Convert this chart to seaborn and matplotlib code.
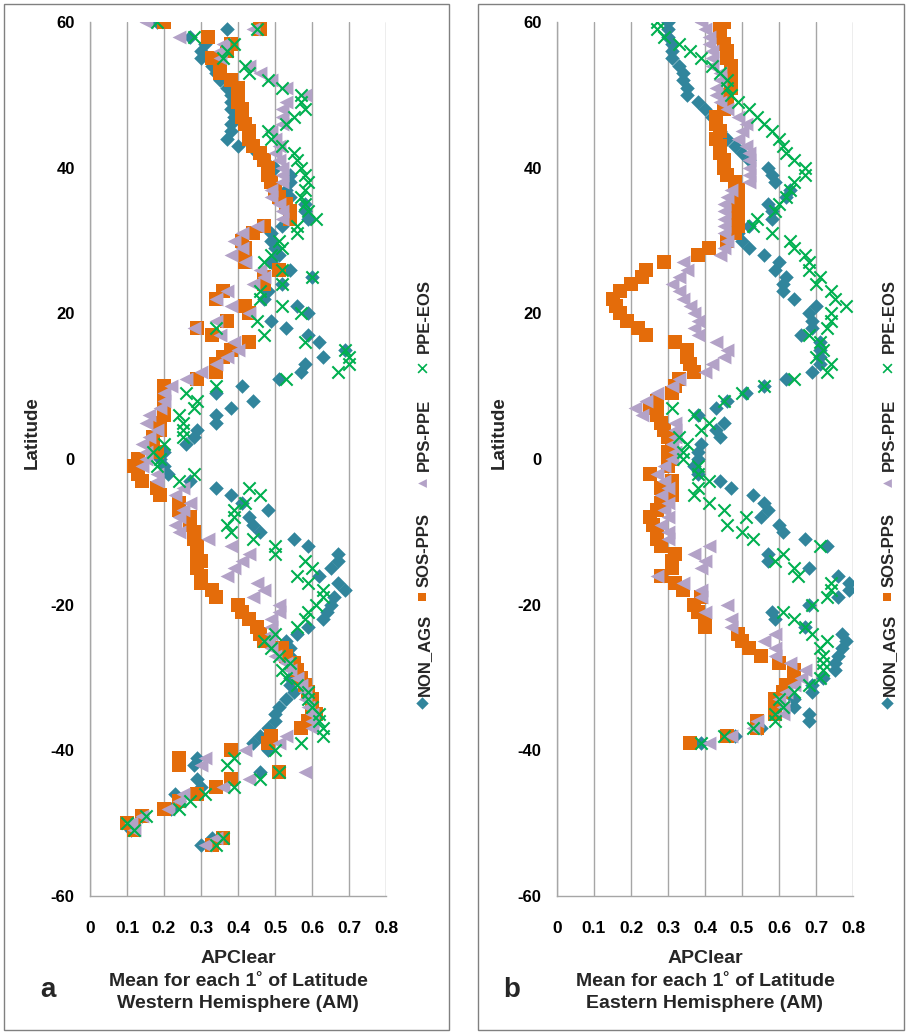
import numpy as np
import pandas as pd
import matplotlib
matplotlib.use("Agg")
import matplotlib.pyplot as plt
from matplotlib.patches import Rectangle
import seaborn as sns

# ------------------------------------------------------------
# Data: mean APClear for each 1 deg of latitude
# ------------------------------------------------------------
lat_w = list(range(60, -54, -1))   # Western hemisphere, 60 .. -53
lat_e = list(range(60, -40, -1))   # Eastern hemisphere, 60 .. -39

non_ags_w = [.18, .37, .27, .31, .30, .30, .33, .34, .35, .37,
             .38, .38, .38, .39, .38, .38, .37, .40, .45, .47,
             .50, .54, .54, .53, .54, .58, .58, .59, .52, .49,
             .49, .50, .51, .49, .54, .60, .52, .48, .47, .56,
             .59, .49, .53, .59, .62, .69, .63, .58, .57, .51,
             .41, .34, .44, .38, .34, .34, .29, .28, .26, .20,
             .19, .20, .21, .27, .34, .38, .41, .48, .43, .44,
             .46, .55, .59, .67, .67, .65, .62, .67, .69, .66,
             .65, .64, .63, .59, .56, .53, .54, .54, .55, .55,
             .54, .54, .55, .53, .51, .50, .50, .48, .46, .44,
             .48, .29, .28, .46, .29, .30, .23, .24, .22, .14,
             .10, .11, .33, .30]
sos_pps_w = [.20, .46, .32, .38, .37, .33, .35, .35, .38, .40,
             .40, .40, .41, .41, .42, .43, .43, .44, .46, .47,
             .48, .48, .49, .50, .51, .53, .54, .54, .47, .44,
             .41, .42, .42, .42, .51, .47, .47, .36, .34, .42,
             .43, .37, .29, .33, .43, .38, .36, .34, .34, .29,
             .20, .20, .20, .20, .20, .19, .19, .17, .17, .18,
             .13, .12, .13, .14, .18, .19, .24, .24, .27, .27,
             .28, .28, .29, .29, .30, .29, .30, .30, .33, .34,
             .40, .41, .43, .45, .46, .47, .52, .53, .55, .56,
             .57, .58, .59, .60, .60, .61, .59, .57, .49, .48,
             .38, .24, .24, .51, .38, .34, .29, .24, .20, .14,
             .10, .12, .36, .33]
pps_ppe_w = [.15, .44, .24, .36, .35, .35, .43, .46, .49, .53,
             .58, .53, .52, .52, .52, .49, .50, .51, .50, .51,
             .52, .52, .52, .49, .49, .51, .52, .52, .45, .41,
             .39, .41, .38, .42, .46, .47, .44, .37, .34, .38,
             .43, .34, .28, .35, .39, .40, .37, .34, .30, .26,
             .22, .20, .20, .19, .16, .15, .18, .16, .14, .15,
             .15, .14, .18, .18, .25, .23, .27, .25, .24, .23,
             .24, .32, .38, .43, .41, .39, .37, .45, .47, .44,
             .51, .51, .49, .49, .49, .48, .49, .50, .53, .54,
             .56, .57, .58, .58, .59, .60, .60, .60, .53, .51,
             .42, .31, .30, .58, .43, .36, .25, .24, .21, .14,
             .11, .12, .34, .31]
ppe_eos_w = [.18, .45, .28, .39, .37, .36, .42, .43, .48, .52,
             .57, .57, .58, .55, .53, .48, .49, .52, .55, .56,
             .57, .58, .59, .58, .57, .58, .59, .61, .56, .56,
             .51, .52, .49, .47, .52, .60, .52, .46, .46, .52,
             .57, .45, .34, .47, .58, .69, .70, .70, .67, .53,
             .34, .26, .29, .28, .24, .25, .25, .25, .20, .17,
             .19, .18, .28, .24, .43, .46, .42, .39, .39, .37,
             .38, .44, .50, .50, .58, .60, .56, .59, .63, .63,
             .61, .59, .58, .56, .50, .47, .49, .51, .54, .52,
             .53, .56, .59, .59, .60, .62, .62, .63, .63, .57,
             .50, .39, .37, .51, .46, .39, .31, .27, .24, .15,
             .10, .12, .36, .34]

non_ags_e = [.30, .30, .30, .31, .31, .31, .33, .34, .34, .35,
             .35, .38, .40, .42, .43, .44, .46, .48, .50, .52,
             .57, .58, .59, .63, .62, .57, .58, .58, .52, .49,
             .50, .52, .56, .60, .59, .62, .61, .61, .64, .70,
             .68, .69, .69, .66, .71, .71, .71, .71, .69, .62,
             .56, .51, .46, .43, .38, .45, .43, .44, .39, .38,
             .38, .37, .38, .44, .47, .53, .56, .57, .55, .60,
             .61, .67, .73, .57, .57, .68, .76, .79, .79, .76,
             .68, .58, .59, .67, .77, .78, .77, .76, .75, .75,
             .72, .69, .69, .64, .64, .68, .68, .55, .48, .39]
sos_pps_e = [.45, .44, .44, .45, .46, .46, .47, .47, .47, .47,
             .46, .46, .45, .43, .43, .44, .43, .44, .44, .45,
             .45, .46, .48, .49, .49, .49, .49, .49, .49, .48,
             .46, .41, .38, .29, .24, .23, .20, .17, .15, .16,
             .17, .19, .22, .24, .32, .35, .35, .36, .37, .33,
             .32, .31, .27, .25, .27, .28, .29, .30, .31, .30,
             .31, .30, .25, .31, .28, .31, .28, .27, .25, .26,
             .27, .27, .28, .32, .31, .31, .28, .32, .34, .39,
             .37, .38, .40, .40, .49, .50, .52, .55, .60, .64,
             .64, .62, .61, .59, .59, .59, .54, .54, .46, .36]
pps_ppe_e = [.39, .40, .41, .41, .42, .42, .42, .44, .44, .43,
             .43, .44, .46, .49, .51, .50, .49, .51, .52, .52,
             .52, .52, .52, .47, .46, .45, .45, .45, .45, .45,
             .46, .45, .44, .34, .35, .33, .31, .33, .34, .36,
             .37, .38, .37, .38, .43, .46, .45, .42, .40, .33,
             .31, .27, .24, .21, .23, .32, .32, .32, .31, .32,
             .31, .29, .27, .29, .30, .28, .30, .29, .30, .28,
             .30, .30, .41, .37, .40, .39, .27, .34, .39, .39,
             .46, .40, .47, .47, .59, .56, .59, .59, .63, .67,
             .66, .64, .62, .60, .61, .61, .54, .53, .47, .41]
ppe_eos_e = [.27, .27, .29, .33, .36, .39, .42, .44, .46, .46,
             .47, .49, .52, .54, .56, .58, .60, .61, .62, .64,
             .67, .67, .64, .63, .62, .60, .59, .54, .53, .58,
             .63, .64, .67, .68, .68, .71, .70, .74, .75, .78,
             .74, .74, .73, .68, .71, .72, .70, .74, .73, .64,
             .56, .50, .45, .31, .37, .41, .39, .33, .35, .34,
             .34, .38, .38, .41, .38, .37, .41, .45, .51, .46,
             .50, .53, .71, .61, .59, .64, .65, .74, .74, .73,
             .69, .61, .64, .67, .69, .73, .71, .72, .72, .72,
             .71, .68, .64, .60, .61, .59, .59, .53, .45, .39]

series_names = ["NON_AGS", "SOS-PPS", "PPS-PPE", "PPE-EOS"]
colors = {"NON_AGS": "#31859C", "SOS-PPS": "#E46C0A",
          "PPS-PPE": "#B3A2C7", "PPE-EOS": "#00B050"}
markers = {"NON_AGS": "D", "SOS-PPS": "s", "PPS-PPE": "<", "PPE-EOS": "x"}
sizes = {"NON_AGS": 55, "SOS-PPS": 88, "PPS-PPE": 100, "PPE-EOS": 78}

x_ticks = [0, 0.1, 0.2, 0.3, 0.4, 0.5, 0.6, 0.7, 0.8]
x_ticklabels = ["0", "0.1", "0.2", "0.3", "0.4", "0.5", "0.6", "0.7", "0.8"]
y_ticks = [-60, -40, -20, 0, 20, 40, 60]


def long_table(lat, non, sos, pps, ppe):
    parts = []
    for name, vals in zip(series_names, [non, sos, pps, ppe]):
        parts.append(pd.DataFrame({"lat": lat, "APClear": vals, "series": name}))
    return pd.concat(parts, ignore_index=True)


df_w = long_table(lat_w, non_ags_w, sos_pps_w, pps_ppe_w, ppe_eos_w)
df_e = long_table(lat_e, non_ags_e, sos_pps_e, pps_ppe_e, ppe_eos_e)

# ------------------------------------------------------------
# Figure
# ------------------------------------------------------------
sns.set_style("white")
plt.rcParams["font.family"] = ["Liberation Sans", "DejaVu Sans"]
plt.rcParams["axes.unicode_minus"] = False

W, H = 907, 1034
fig = plt.figure(figsize=(W / 100, H / 100), dpi=100)

grid_col = "#A6A6A6"


def draw_panel(ax, df, subtitle):
    for name in series_names:
        d = df[df["series"] == name]
        if markers[name] == "x":
            sns.scatterplot(data=d, x="APClear", y="lat", ax=ax, marker="x",
                            color=colors[name], s=sizes[name], linewidth=1.5,
                            legend=False, zorder=3)
        else:
            sns.scatterplot(data=d, x="APClear", y="lat", ax=ax,
                            marker=markers[name], color=colors[name],
                            s=sizes[name], linewidth=0, legend=False, zorder=3)
    ax.set_xlim(0, 0.8)
    ax.set_ylim(-60, 60)
    ax.set_xticks(x_ticks)
    ax.set_xticklabels(x_ticklabels)
    ax.set_yticks(y_ticks)
    ax.grid(axis="x", color=grid_col, lw=1)
    ax.grid(axis="y", visible=False)
    for s in ["top", "right"]:
        ax.spines[s].set_visible(False)
    for s in ["left", "bottom"]:
        ax.spines[s].set_color(grid_col)
        ax.spines[s].set_linewidth(1)
    ax.tick_params(axis="both", direction="out", length=5, width=1,
                   color=grid_col, labelsize=12, labelcolor="black")
    ax.tick_params(axis="x", pad=13, labelsize=12.5)
    ax.tick_params(axis="y", pad=6)
    for lab in ax.get_xticklabels() + ax.get_yticklabels():
        lab.set_fontweight("bold")
    ax.set_ylabel("Latitude", fontsize=13.5, fontweight="bold", labelpad=8)
    ax.yaxis.set_label_coords(-0.165, 0.53)
    ax.set_xlabel("APClear\nMean for each 1\u02da of Latitude\n" + subtitle,
                  fontsize=14, fontweight="bold", linespacing=1.44,
                  labelpad=10)


ax_w = fig.add_axes([90 / W, 1 - 896 / H, 296 / W, 874 / H])
ax_e = fig.add_axes([557 / W, 1 - 896 / H, 296 / W, 874 / H])
draw_panel(ax_w, df_w, "Western Hemisphere (AM)")
draw_panel(ax_e, df_e, "Eastern Hemisphere (AM)")

# overlay in pixel units: panel frames, rotated legends, panel letters
ov = fig.add_axes([0, 0, 1, 1], zorder=-1)
ov.set_xlim(0, W)
ov.set_ylim(H, 0)
ov.axis("off")
ov.add_patch(Rectangle((4, 4), 445, 1026, fill=False, ec="#808080", lw=1))
ov.add_patch(Rectangle((478, 4), 426, 1026, fill=False, ec="#808080", lw=1))

ov2 = fig.add_axes([0, 0, 1, 1], zorder=5)
ov2.set_xlim(0, W)
ov2.set_ylim(H, 0)
ov2.axis("off")
ov2.patch.set_alpha(0)

leg_text_y = [655, 550, 435, 316]
leg_mark_y = [703, 597, 483, 368]
for x0, letter, lx in [(422, "a", 48), (887, "b", 512)]:
    for name, ty, my in zip(series_names, leg_text_y, leg_mark_y):
        if markers[name] == "x":
            ov2.scatter([x0], [my], marker="x", color=colors[name], s=40, lw=1.2)
        else:
            ov2.scatter([x0], [my], marker=markers[name], color=colors[name],
                        s=40, lw=0)
        ov2.text(x0 + 2, ty, name, rotation=90, ha="center", va="center",
                 fontsize=12, fontweight="bold")
    ov2.text(lx, 990, letter, ha="center", va="center", fontsize=20,
             fontweight="bold")

fig.savefig("out.png", dpi=100, facecolor="white")
